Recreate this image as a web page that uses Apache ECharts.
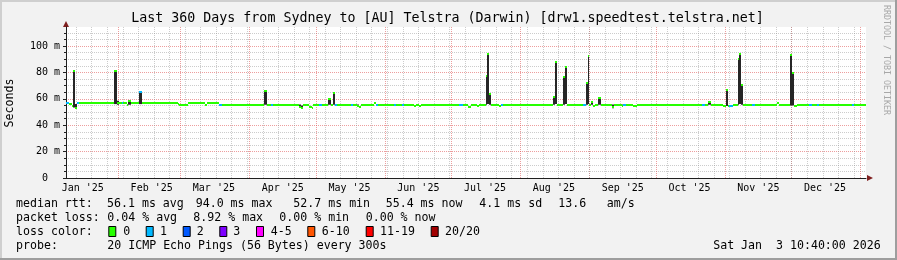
<!DOCTYPE html>
<html><head><meta charset="utf-8">
<script src="https://cdn.jsdelivr.net/npm/echarts@6/dist/echarts.min.js"></script>
<style>html,body{margin:0;padding:0;background:#f2f2f2;}#c{width:897px;height:260px;}</style>
</head><body><div id="c"></div>
<script>
// ---- data ----
const startTime = '2025-01-08 10:40';
const endTime = '2026-01-03 10:40';
// change points: each segment lasts until the next time (or endTime)
const times = [
 '2025-01-08 10:40','2025-01-10 00:00','2025-01-11 00:00','2025-01-11 12:00','2025-01-12 12:00','2025-01-13 12:00','2025-01-14 12:00',
 '2025-01-30 00:00','2025-01-31 12:00','2025-02-01 12:00','2025-02-02 12:00','2025-02-03 00:00','2025-02-05 00:00','2025-02-05 12:00',
 '2025-02-06 12:00','2025-02-10 12:00','2025-02-11 12:00','2025-02-28 00:00','2025-02-28 12:00','2025-03-04 12:00','2025-03-12 00:00',
 '2025-03-13 00:00','2025-03-18 12:00','2025-03-19 12:00','2025-04-07 12:00','2025-04-09 00:00','2025-04-10 12:00','2025-04-11 12:00',
 '2025-04-23 12:00','2025-04-24 00:00','2025-04-25 00:00','2025-04-28 00:00','2025-04-29 00:00','2025-04-29 12:00','2025-05-02 12:00',
 '2025-05-03 12:00','2025-05-06 12:00','2025-05-07 12:00','2025-05-08 12:00','2025-05-09 12:00','2025-05-10 12:00','2025-05-16 12:00',
 '2025-05-17 12:00','2025-05-19 12:00','2025-05-20 12:00','2025-05-21 00:00','2025-05-27 00:00','2025-05-28 00:00','2025-05-29 00:00',
 '2025-06-05 00:00','2025-06-06 00:00','2025-06-08 12:00','2025-06-09 12:00','2025-06-14 00:00','2025-06-15 00:00','2025-06-16 12:00',
 '2025-06-17 00:00','2025-07-04 12:00','2025-07-06 00:00','2025-07-08 00:00','2025-07-08 12:00','2025-07-09 12:00','2025-07-10 12:00',
 '2025-07-12 12:00','2025-07-13 12:00','2025-07-16 12:00','2025-07-17 00:00','2025-07-18 00:00','2025-07-18 12:00','2025-07-22 12:00',
 '2025-07-23 00:00','2025-07-24 00:00','2025-08-15 12:00','2025-08-16 12:00','2025-08-17 12:00','2025-08-20 00:00','2025-08-21 00:00',
 '2025-08-22 00:00','2025-08-29 00:00','2025-08-30 12:00','2025-08-31 06:00','2025-09-01 00:00','2025-09-01 12:00','2025-09-02 12:00',
 '2025-09-03 12:00','2025-09-05 00:00','2025-09-06 00:00','2025-09-11 00:00','2025-09-12 00:00','2025-09-15 12:00','2025-09-16 00:00',
 '2025-09-17 12:00','2025-09-20 12:00','2025-09-22 12:00','2025-10-21 12:00','2025-10-23 00:00','2025-10-24 12:00','2025-10-25 12:00',
 '2025-10-31 00:00','2025-11-01 06:00','2025-11-02 06:00','2025-11-03 00:00','2025-11-04 12:00','2025-11-06 18:00','2025-11-07 12:00',
 '2025-11-08 06:00','2025-11-09 00:00','2025-11-13 00:00','2025-11-14 12:00','2025-11-24 12:00','2025-11-25 12:00','2025-11-30 06:00',
 '2025-12-01 06:00','2025-12-02 00:00','2025-12-03 12:00','2025-12-09 00:00','2025-12-10 00:00','2025-12-12 12:00','2025-12-13 12:00',
 '2025-12-28 00:00','2025-12-29 00:00'
];
// median rtt in ms
const median = [
 56.6,55.8,54.8,81.3,52.7,56.6,56.6,
 81.3,57.2,56.6,56.6,56.6,55.6,58.6,
 56.6,65.0,56.6,55.9,55.6,56.6,55.6,
 56.6,55.6,55.6,66.0,55.6,55.6,55.6,
 54.0,52.8,55.6,54.0,52.8,55.6,55.6,
 55.6,59.6,55.6,64.2,55.6,55.6,55.6,
 55.6,54.8,54.0,55.6,56.6,55.6,55.6,
 55.6,55.6,55.6,55.6,54.8,55.6,54.8,
 55.6,55.6,55.6,55.0,54.0,55.0,55.6,
 54.5,55.6,77.3,94.0,64.0,55.6,54.8,
 55.6,55.6,61.6,88.1,55.6,76.3,83.8,
 55.6,55.6,72.2,92.4,55.6,57.8,54.3,
 55.6,60.3,55.6,53.5,55.6,54.5,55.6,
 55.6,54.5,55.6,55.6,55.6,57.8,55.6,
 54.5,66.7,54.8,54.8,55.6,89.9,94.0,
 70.5,55.6,55.6,55.6,56.6,55.6,93.2,
 79.8,54.3,55.6,55.6,55.6,55.6,55.6,
 55.6,55.4
];
// smoke (spread of the pings) in ms, null where it hides under the median line
const smokeLow = [
 null,null,null,53.5,52.7,null,null,
 56.0,55.5,null,null,null,null,55.5,
 null,56.0,null,null,null,null,null,
 null,null,null,55.5,null,null,null,
 53.5,52.7,null,null,null,null,null,
 null,55.5,null,55.5,null,null,null,
 null,54.3,null,null,null,null,null,
 null,null,null,null,null,null,null,
 null,null,null,null,null,null,null,
 null,null,55.5,56.0,55.5,null,null,
 null,null,55.5,56.0,null,55.5,56.0,
 null,null,55.5,56.0,null,55.5,null,
 null,55.5,null,52.8,null,54.0,null,
 null,null,null,null,null,55.5,null,
 null,54.5,null,null,null,55.5,56.0,
 55.5,null,null,null,null,null,55.0,
 55.0,null,null,null,null,null,null,
 null,null
];
const smokeHigh = [
 null,null,null,81.6,56.0,null,null,
 81.6,58.5,null,null,null,null,58.9,
 null,65.4,null,null,null,null,null,
 null,null,null,66.3,null,null,null,
 55.6,55.0,null,null,null,null,null,
 null,60.0,null,64.6,null,null,null,
 null,55.6,null,null,null,null,null,
 null,null,null,null,null,null,null,
 null,null,null,null,null,null,null,
 null,null,77.6,94.4,64.4,null,null,
 null,null,62.0,88.5,null,76.6,84.2,
 null,null,72.6,92.8,null,58.2,null,
 null,60.7,null,55.6,null,55.6,null,
 null,null,null,null,null,58.2,null,
 null,67.0,null,null,null,90.3,94.4,
 70.9,null,null,null,null,null,93.6,
 80.2,null,null,null,null,null,null,
 null,null
];
// lost pings (of 20) per segment
const lostPings = [
 1,0,0,0,0,1,0,
 0,0,0,1,0,0,0,
 0,1,0,0,0,0,0,
 0,1,0,0,0,1,0,
 0,0,0,0,0,0,1,
 0,0,0,0,1,0,1,
 0,0,0,0,0,1,0,
 1,0,1,0,0,0,0,
 0,1,0,0,0,0,0,
 0,0,0,0,0,0,0,
 1,0,0,0,0,0,0,
 0,1,0,0,0,0,0,
 0,0,0,0,0,0,1,
 0,0,0,1,0,0,0,
 0,0,0,1,0,0,0,
 0,0,1,0,0,0,0,
 0,0,0,1,0,1,0,
 1,0
];
const lossLabels = ['0','1','2','3','4-5','6-10','11-19','20/20'];
const lossUpper  = [0,1,2,3,5,10,19,20];
const lossColors = ['#26ff00','#00b8ff','#0059ff','#7e00ff','#ff00ff','#ff5500','#ff0000','#a10000'];
const monthLabels = ["Jan '25","Feb '25","Mar '25","Apr '25","May '25","Jun '25","Jul '25","Aug '25","Sep '25","Oct '25","Nov '25","Dec '25"];
const yLabelValues = [0,20,40,60,80,100];
const yMinorValues = [5,10,15,25,30,35,45,50,55,65,70,75,85,90,95,105,110];

// ---- helpers ----
function ts(s){const p=s.split(/[- :]/).map(Number);return Date.UTC(p[0],p[1]-1,p[2],p[3]||0,p[4]||0);}
const DAY=86400000;
const tMin=ts(startTime), tMax=ts(endTime);
const monthStarts=[], labelTimes=[];
for(let m=0;m<13;m++){monthStarts.push(Date.UTC(2025,m,1));}
for(let m=0;m<12;m++){labelTimes.push(Date.UTC(2025,m,1)+15*DAY);}
const weekTimes=[]; for(let t=Date.UTC(2025,0,6);t<tMax;t+=7*DAY){weekTimes.push(t);}
function lossColor(n){for(let i=0;i<lossUpper.length;i++){if(n<=lossUpper[i])return lossColors[i];}return lossColors[lossColors.length-1];}

const segs = times.map((t,i)=>[ts(t), ts(i+1<times.length?times[i+1]:endTime), median[i], smokeLow[i], smokeHigh[i], lostPings[i]]);
const smokeSegs = segs.filter(s=>s[3]!=null);

const MONO='"DejaVu Sans Mono", monospace';
const chart=echarts.init(document.getElementById('c'),null,{renderer:'canvas'});

function txt(x,y,text,opts){return Object.assign({type:'text',x:x,y:y,silent:true,style:Object.assign({text:text,font:'11.6px '+MONO,fill:'#000',align:'left',verticalAlign:'middle'},opts||{})});}

const graphic=[
 {type:'rect',shape:{x:0,y:0,width:897,height:2},style:{fill:'#cfcfcf'},silent:true},
 {type:'rect',shape:{x:0,y:0,width:2,height:260},style:{fill:'#cfcfcf'},silent:true},
 {type:'rect',shape:{x:895,y:0,width:2,height:260},style:{fill:'#9e9e9e'},silent:true},
 {type:'rect',shape:{x:0,y:258,width:897,height:2},style:{fill:'#9e9e9e'},silent:true},
 txt(447.5,19,'Last 360 Days from Sydney to [AU] Telstra (Darwin) [drw1.speedtest.telstra.net]',{font:'13.3px '+MONO,align:'center'}),
 {type:'text',x:10,y:103,rotation:Math.PI/2,silent:true,style:{text:'Seconds',font:'11.6px '+MONO,fill:'#000',align:'center',verticalAlign:'middle'}},
 {type:'text',x:886,y:60,rotation:-Math.PI/2,silent:true,style:{text:'RRDTOOL / TOBI OETIKER',font:'8.3px '+MONO,fill:'#a8a8a8',align:'center',verticalAlign:'middle'}},
 {type:'polygon',shape:{points:[[63,27],[69,27],[66,21]]},style:{fill:'#801f1f'},silent:true},
 {type:'polygon',shape:{points:[[867,175],[867,181],[873,178]]},style:{fill:'#801f1f'},silent:true},
 txt(16,204,'median rtt:'), txt(107,204,'56.1 ms avg'), txt(195.7,204,'94.0 ms max'), txt(293.3,204,'52.7 ms min'),
 txt(385.7,204,'55.4 ms now'), txt(479.3,204,'4.1 ms sd'), txt(558.3,204,'13.6'), txt(606.7,204,'am/s'),
 txt(16,218,'packet loss:'), txt(107.3,218,'0.04 % avg'), txt(193.3,218,'8.92 % max'), txt(279.3,218,'0.00 % min'), txt(365.7,218,'0.00 % now'),
 txt(16,232,'loss color:'),
 txt(16,246,'probe:'), txt(107.3,246,'20 ICMP Echo Pings (56 Bytes) every 300s'), txt(880.7,246,'Sat Jan  3 10:40:00 2026',{align:'right'})
];
const boxX=[108.3,145.7,182.7,219.3,256,307.3,365.7,430.7];
const labX=[123.3,160,196.7,233.3,270.7,321.7,380,445];
lossLabels.forEach((l,i)=>{
 graphic.push({type:'rect',shape:{x:boxX[i]+0.5,y:226.5,width:7,height:10},style:{fill:lossColors[i],stroke:'#000',lineWidth:1},silent:true});
 graphic.push(txt(labX[i],232,l));
});

chart.setOption({
 animation:false,
 backgroundColor:'#f2f2f2',
 grid:{left:66,top:27,width:800,height:151,backgroundColor:'#ffffff',show:true,borderWidth:0},
 xAxis:[
  {type:'value',min:tMin,max:tMax,position:'bottom',
   axisLine:{show:true,onZero:false,lineStyle:{color:'#1f1f1f',width:1}},
   axisTick:{show:false,customValues:monthStarts},
   axisLabel:{customValues:labelTimes,margin:5,fontFamily:'DejaVu Sans Mono',fontSize:10,color:'#000',
     formatter:function(v){const i=labelTimes.indexOf(v);return i>=0?monthLabels[i]:'';}},
   splitLine:{show:true,lineStyle:{color:'rgba(222,79,79,0.55)',type:[1,1],width:1}}},
  {type:'value',min:tMin,max:tMax,position:'top',
   axisLine:{show:false},axisTick:{show:false,customValues:weekTimes},axisLabel:{show:false},
   splitLine:{show:true,lineStyle:{color:'rgba(143,143,143,0.45)',type:[1,1],width:1}}}
 ],
 yAxis:[
  {type:'value',min:0,max:114.4,position:'left',
   axisLine:{show:true,onZero:false,lineStyle:{color:'#1f1f1f',width:1}},
   axisTick:{show:true,length:3,customValues:yLabelValues,lineStyle:{color:'#1f1f1f'}},
   axisLabel:{customValues:yLabelValues,margin:6,fontFamily:'DejaVu Sans Mono',fontSize:10,color:'#000',
     formatter:function(v){return v===0?'0  ':v+' m';}},
   splitLine:{show:true,lineStyle:{color:'rgba(222,79,79,0.55)',type:[1,1],width:1}}},
  {type:'value',min:0,max:114.4,position:'left',
   axisLine:{show:false},axisTick:{show:true,length:2,customValues:yMinorValues,lineStyle:{color:'#1f1f1f'}},axisLabel:{show:false},
   splitLine:{show:true,lineStyle:{color:'rgba(143,143,143,0.45)',type:[1,1],width:1}}}
 ],
 graphic:graphic,
 series:[
  {type:'custom',name:'smoke',xAxisIndex:0,yAxisIndex:0,clip:true,silent:true,
   data:smokeSegs,encode:{x:[0,1],y:[3,4]},
   renderItem:function(p,api){
     const a=api.coord([api.value(0),api.value(4)]);const b=api.coord([api.value(1),api.value(3)]);
     return {type:'rect',shape:{x:Math.round(a[0]),y:a[1],width:Math.max(1,Math.round(b[0])-Math.round(a[0])),height:b[1]-a[1]},style:{fill:'#262626'}};
   }},
  {type:'custom',name:'median',xAxisIndex:0,yAxisIndex:0,clip:true,silent:true,
   data:segs,encode:{x:[0,1],y:2},
   renderItem:function(p,api){
     const a=api.coord([api.value(0),api.value(2)]);const b=api.coord([api.value(1),api.value(2)]);
     return {type:'rect',shape:{x:Math.round(a[0]),y:Math.round(a[1])-1,width:Math.max(1,Math.round(b[0])-Math.round(a[0])),height:2},style:{fill:lossColor(api.value(5))}};
   }}
 ]
});
</script></body></html>
